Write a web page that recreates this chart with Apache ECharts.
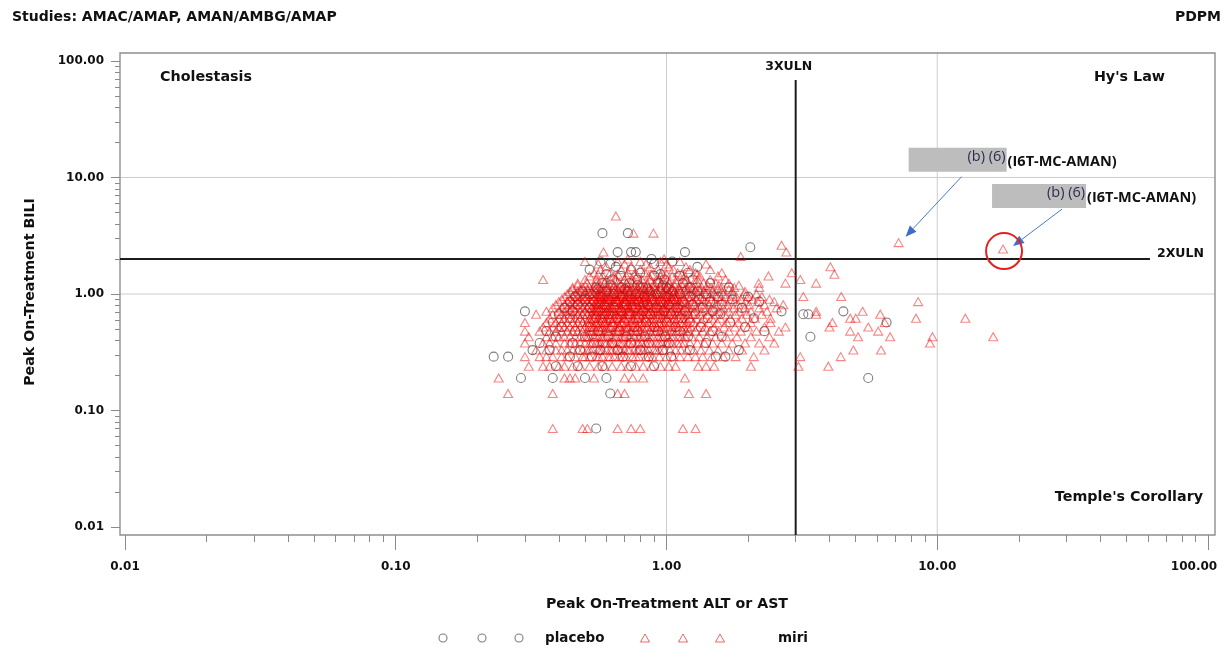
<!DOCTYPE html>
<html>
<head>
<meta charset="utf-8">
<title>eDISH plot</title>
<script src="https://cdn.jsdelivr.net/npm/echarts@6/dist/echarts.min.js"></script>
<style>
  html, body { margin: 0; padding: 0; background: #ffffff; overflow: hidden; }
  #chart { width: 1225px; height: 647px; }
</style>
</head>
<body>
<div id="chart"></div>
<script>
// Peak on-treatment BILI (x ULN): one level per row of the data below
const biliLevels = [
  0.07, 0.14, 0.19, 0.24, 0.29, 0.33, 0.38, 0.43, 0.48, 0.52,
  0.57, 0.62, 0.67, 0.71, 0.76, 0.81, 0.86, 0.90, 0.95, 1.00,
  1.05, 1.10, 1.14, 1.19, 1.24, 1.33, 1.43, 1.48, 1.52, 1.62,
  1.71, 1.81, 1.90, 2.00, 2.10, 2.29, 2.43, 2.52, 2.62, 2.76,
  3.33, 4.67
];

// Peak on-treatment ALT or AST (x ULN), miri arm, grouped by BILI level
const miriAlt = [
  [0.38, 0.49, 0.51, 0.66, 0.74, 0.80, 1.15, 1.28],
  [0.26, 0.38, 0.66, 0.70, 1.21, 1.40],
  [0.24, 0.42, 0.44, 0.46, 0.54, 0.70, 0.75, 0.82, 1.17],
  [0.31, 0.35, 0.37, 0.40, 0.42, 0.45, 0.48, 0.52, 0.56, 0.59, 0.63, 0.68, 0.72, 0.77, 0.82, 0.88, 0.95, 1.02, 1.08, 1.31, 1.40, 1.50, 2.05, 3.07, 3.96],
  [0.30, 0.34, 0.36, 0.38, 0.41, 0.43, 0.46, 0.49, 0.52, 0.55, 0.58, 0.61, 0.64, 0.67, 0.71, 0.75, 0.79, 0.84, 0.89, 0.94, 1.00, 1.06, 1.12, 1.20, 1.28, 1.36, 1.47, 1.62, 1.80, 2.10, 3.12, 4.40,
   0.50, 0.56, 0.62, 0.69, 0.77, 0.86],
  [0.33, 0.36, 0.39, 0.41, 0.43, 0.45, 0.47, 0.49, 0.51, 0.53, 0.56, 0.58, 0.60, 0.63, 0.65, 0.68, 0.70, 0.73, 0.76, 0.79, 0.82, 0.86, 0.90, 0.94, 0.98, 1.03, 1.08, 1.13, 1.19, 1.26, 1.34, 1.44, 1.55, 1.70, 1.90, 2.30, 4.90, 6.20,
   0.52, 0.57, 0.62, 0.67, 0.72, 0.78, 0.84, 0.92],
  [0.30, 0.35, 0.37, 0.39, 0.42, 0.44, 0.46, 0.48, 0.50, 0.52, 0.55, 0.57, 0.59, 0.62, 0.64, 0.67, 0.69, 0.72, 0.75, 0.78, 0.81, 0.84, 0.88, 0.92, 0.96, 1.00, 1.05, 1.10, 1.16, 1.22, 1.30, 1.38, 1.48, 1.60, 1.75, 1.95, 2.20, 2.50, 9.40,
   0.53, 0.56, 0.60, 0.63, 0.68, 0.73, 0.79, 0.86, 0.94, 1.02, 1.13],
  [0.31, 0.36, 0.38, 0.40, 0.42, 0.44, 0.46, 0.48, 0.50, 0.52, 0.54, 0.56, 0.58, 0.60, 0.63, 0.65, 0.68, 0.70, 0.73, 0.76, 0.79, 0.82, 0.85, 0.89, 0.93, 0.97, 1.01, 1.06, 1.11, 1.17, 1.24, 1.32, 1.41, 1.52, 1.66, 1.82, 2.05, 2.40, 5.10, 6.70, 9.60, 16.1,
   0.51, 0.55, 0.59, 0.64, 0.69, 0.74, 0.80, 0.87, 0.95, 1.04, 1.14],
  [0.30, 0.34, 0.37, 0.39, 0.41, 0.43, 0.45, 0.47, 0.49, 0.51, 0.53, 0.55, 0.57, 0.59, 0.61, 0.64, 0.66, 0.69, 0.71, 0.74, 0.77, 0.80, 0.83, 0.87, 0.91, 0.95, 0.99, 1.04, 1.09, 1.15, 1.21, 1.28, 1.36, 1.45, 1.56, 1.70, 1.88, 2.15, 2.60, 4.77, 6.05,
   0.52, 0.56, 0.60, 0.65, 0.70, 0.75, 0.81, 0.89, 0.97, 1.06, 1.18],
  [0.35, 0.38, 0.40, 0.42, 0.44, 0.46, 0.48, 0.50, 0.52, 0.54, 0.56, 0.58, 0.60, 0.62, 0.65, 0.67, 0.70, 0.72, 0.75, 0.78, 0.81, 0.85, 0.88, 0.92, 0.96, 1.00, 1.05, 1.10, 1.16, 1.23, 1.30, 1.39, 1.50, 1.63, 1.79, 2.00, 2.30, 2.75, 4.00, 5.56,
   0.53, 0.57, 0.61, 0.66, 0.71, 0.76, 0.83, 0.90, 0.98, 1.08, 1.20],
  [0.30, 0.36, 0.39, 0.41, 0.43, 0.45, 0.47, 0.49, 0.51, 0.53, 0.55, 0.57, 0.59, 0.61, 0.63, 0.66, 0.68, 0.71, 0.74, 0.77, 0.80, 0.83, 0.86, 0.90, 0.94, 0.98, 1.03, 1.08, 1.13, 1.19, 1.26, 1.34, 1.43, 1.54, 1.67, 1.84, 2.05, 2.42, 4.10, 6.40,
   0.52, 0.56, 0.60, 0.64, 0.69, 0.75, 0.81, 0.88, 0.96, 1.05, 1.16],
  [0.37, 0.40, 0.42, 0.44, 0.46, 0.48, 0.50, 0.52, 0.54, 0.56, 0.58, 0.60, 0.62, 0.64, 0.67, 0.69, 0.72, 0.75, 0.78, 0.81, 0.84, 0.88, 0.92, 0.96, 1.00, 1.05, 1.10, 1.15, 1.22, 1.29, 1.37, 1.47, 1.58, 1.72, 1.90, 2.12, 2.42, 4.77, 5.00, 8.35, 12.7,
   0.53, 0.57, 0.61, 0.66, 0.70, 0.76, 0.83, 0.90, 0.98, 1.07, 1.18],
  [0.33, 0.38, 0.41, 0.43, 0.45, 0.47, 0.49, 0.51, 0.53, 0.55, 0.57, 0.59, 0.61, 0.63, 0.65, 0.68, 0.70, 0.73, 0.76, 0.79, 0.82, 0.86, 0.89, 0.93, 0.97, 1.02, 1.06, 1.12, 1.18, 1.25, 1.33, 1.42, 1.52, 1.64, 1.80, 1.98, 2.25, 3.57, 6.16,
   0.54, 0.58, 0.62, 0.67, 0.72, 0.77, 0.84, 0.91, 0.99, 1.09, 1.21],
  [0.36, 0.40, 0.42, 0.44, 0.46, 0.48, 0.50, 0.52, 0.54, 0.56, 0.58, 0.60, 0.62, 0.64, 0.67, 0.69, 0.72, 0.74, 0.77, 0.80, 0.84, 0.87, 0.91, 0.95, 0.99, 1.04, 1.09, 1.14, 1.20, 1.27, 1.35, 1.45, 1.56, 1.70, 1.86, 2.05, 2.35, 3.57, 5.30,
   0.55, 0.59, 0.63, 0.68, 0.73, 0.79, 0.85, 0.93, 1.01, 1.11],
  [0.38, 0.41, 0.43, 0.45, 0.47, 0.49, 0.51, 0.53, 0.55, 0.57, 0.59, 0.61, 0.63, 0.66, 0.68, 0.71, 0.73, 0.76, 0.79, 0.82, 0.85, 0.89, 0.93, 0.97, 1.01, 1.06, 1.11, 1.17, 1.24, 1.31, 1.40, 1.50, 1.62, 1.77, 1.95, 2.20, 2.55,
   0.54, 0.58, 0.62, 0.67, 0.72, 0.78, 0.84, 0.91, 0.99, 1.09, 1.20],
  [0.39, 0.42, 0.44, 0.46, 0.48, 0.50, 0.52, 0.54, 0.56, 0.58, 0.60, 0.62, 0.65, 0.67, 0.70, 0.72, 0.75, 0.78, 0.81, 0.84, 0.87, 0.91, 0.95, 0.99, 1.03, 1.08, 1.14, 1.20, 1.27, 1.35, 1.44, 1.55, 1.68, 1.84, 2.02, 2.30, 2.70,
   0.55, 0.59, 0.64, 0.69, 0.74, 0.80, 0.86, 0.93, 1.01, 1.11],
  [0.40, 0.43, 0.45, 0.47, 0.49, 0.51, 0.53, 0.55, 0.57, 0.59, 0.61, 0.64, 0.66, 0.69, 0.71, 0.74, 0.77, 0.80, 0.83, 0.86, 0.90, 0.94, 0.98, 1.02, 1.07, 1.12, 1.18, 1.25, 1.32, 1.41, 1.51, 1.63, 1.78, 1.96, 2.18, 2.50, 8.50,
   0.56, 0.60, 0.65, 0.70, 0.75, 0.82, 0.88, 0.96, 1.05, 1.15],
  [0.41, 0.44, 0.46, 0.48, 0.50, 0.52, 0.54, 0.56, 0.58, 0.60, 0.62, 0.65, 0.67, 0.70, 0.73, 0.76, 0.79, 0.82, 0.85, 0.89, 0.93, 0.97, 1.01, 1.05, 1.10, 1.16, 1.22, 1.29, 1.37, 1.47, 1.58, 1.72, 1.88, 2.08, 2.40,
   0.57, 0.61, 0.66, 0.71, 0.77, 0.83, 0.91, 0.99, 1.08],
  [0.42, 0.45, 0.47, 0.49, 0.51, 0.53, 0.55, 0.57, 0.59, 0.62, 0.64, 0.67, 0.69, 0.72, 0.75, 0.78, 0.81, 0.84, 0.88, 0.92, 0.96, 1.00, 1.04, 1.09, 1.14, 1.20, 1.27, 1.35, 1.44, 1.54, 1.66, 1.81, 2.00, 2.25, 3.20, 4.42,
   0.56, 0.60, 0.65, 0.71, 0.76, 0.83, 0.90, 0.98, 1.07],
  [0.43, 0.46, 0.48, 0.50, 0.52, 0.54, 0.56, 0.58, 0.60, 0.63, 0.65, 0.68, 0.70, 0.73, 0.76, 0.79, 0.82, 0.86, 0.89, 0.93, 0.97, 1.02, 1.06, 1.11, 1.17, 1.24, 1.31, 1.40, 1.50, 1.62, 1.76, 1.94, 2.15,
   0.57, 0.62, 0.67, 0.72, 0.78, 0.84, 0.91, 1.00, 1.09],
  [0.44, 0.47, 0.50, 0.53, 0.55, 0.58, 0.61, 0.64, 0.67, 0.70, 0.73, 0.77, 0.80, 0.84, 0.88, 0.92, 0.97, 1.02, 1.07, 1.13, 1.20, 1.28, 1.37, 1.48, 1.60, 1.75, 1.95],
  [0.45, 0.48, 0.51, 0.54, 0.57, 0.60, 0.63, 0.66, 0.69, 0.72, 0.76, 0.79, 0.83, 0.87, 0.91, 0.95, 1.00, 1.05, 1.11, 1.17, 1.24, 1.32, 1.42, 1.55, 1.70],
  [0.45, 0.49, 0.52, 0.55, 0.58, 0.61, 0.64, 0.67, 0.71, 0.74, 0.78, 0.82, 0.86, 0.90, 0.95, 1.00, 1.05, 1.11, 1.18, 1.26, 1.35, 1.46, 1.60, 1.78, 2.20],
  [0.47, 0.50, 0.54, 0.57, 0.60, 0.64, 0.68, 0.72, 0.76, 0.80, 0.85, 0.90, 0.95, 1.01, 1.07, 1.14, 1.22, 1.31, 1.42, 1.56, 1.85],
  [0.47, 0.51, 0.55, 0.59, 0.63, 0.67, 0.71, 0.75, 0.80, 0.85, 0.90, 0.96, 1.02, 1.09, 1.17, 1.26, 1.37, 1.52, 1.70, 2.19, 2.75, 3.57],
  [0.35, 0.50, 0.55, 0.60, 0.65, 0.70, 0.75, 0.81, 0.87, 0.94, 1.01, 1.09, 1.18, 1.30, 1.45, 1.65, 3.12],
  [0.52, 0.58, 0.64, 0.71, 0.78, 0.86, 0.95, 1.05, 1.17, 1.33, 1.55, 2.38],
  [0.56, 0.66, 0.76, 0.88, 1.00, 1.14, 1.30, 4.17],
  [0.54, 0.62, 0.72, 0.83, 0.96, 1.10, 1.28, 1.60, 2.90],
  [0.57, 0.68, 0.80, 0.93, 1.06, 1.22, 1.45],
  [0.60, 0.74, 0.87, 1.02, 1.18, 4.03],
  [0.56, 0.70, 0.84, 1.00, 1.40],
  [0.50, 0.66, 0.80, 0.95, 1.12],
  [0.72, 0.98],
  [1.88],
  [0.585, 2.77],
  [17.5],
  [],
  [2.66],
  [7.2],
  [0.755, 0.895],
  [0.65]
];

// Peak on-treatment ALT or AST (x ULN), placebo arm, grouped by BILI level
const placeboAlt = [
  [0.55],
  [0.62],
  [0.29, 0.38, 0.50, 0.60, 5.56],
  [0.39, 0.47, 0.58, 0.74, 0.90],
  [0.23, 0.26, 0.44, 0.53, 0.69, 0.86, 1.04, 1.52, 1.65],
  [0.32, 0.37, 0.48, 0.57, 0.66, 0.80, 0.97, 1.22, 1.85],
  [0.34, 0.45, 0.54, 0.63, 0.74, 0.86, 1.02, 1.40],
  [0.39, 0.50, 0.61, 0.71, 0.83, 0.99, 1.20, 1.60, 3.40],
  [0.36, 0.46, 0.56, 0.67, 0.78, 0.93, 1.12, 1.48, 2.30],
  [0.41, 0.52, 0.63, 0.76, 0.90, 1.08, 1.34, 1.95],
  [0.38, 0.48, 0.58, 0.70, 0.84, 1.00, 1.22, 1.72, 6.50],
  [0.44, 0.55, 0.66, 0.79, 0.95, 1.14, 1.42, 2.10],
  [0.40, 0.50, 0.61, 0.73, 0.87, 1.04, 1.28, 1.58, 3.20, 3.34],
  [0.30, 0.45, 0.56, 0.68, 0.82, 0.98, 1.17, 1.48, 2.66, 4.50],
  [0.42, 0.52, 0.64, 0.77, 0.92, 1.10, 1.36, 1.90],
  [0.47, 0.59, 0.71, 0.85, 1.02, 1.25, 1.60],
  [0.44, 0.54, 0.65, 0.79, 0.95, 1.15, 1.45, 2.20],
  [0.50, 0.61, 0.74, 0.88, 1.06, 1.32, 1.75],
  [0.46, 0.57, 0.69, 0.83, 1.00, 1.22, 1.55, 2.00],
  [0.52, 0.64, 0.77, 0.92, 1.12, 1.40],
  [0.49, 0.60, 0.72, 0.87, 1.05, 1.30],
  [0.56, 0.70, 0.85, 1.02],
  [0.55, 0.68, 0.82, 1.00, 1.22, 1.70],
  [0.62, 0.78, 0.97],
  [0.58, 0.73, 0.93, 1.15, 1.45],
  [0.63, 0.78, 0.98, 1.25],
  [0.68, 0.90, 1.12],
  [0.60, 0.95],
  [0.80, 1.20],
  [0.52, 0.74],
  [0.65, 1.30],
  [0.62, 0.90],
  [0.57, 1.05],
  [0.88],
  [],
  [0.66, 0.74, 0.77, 1.17],
  [],
  [2.04],
  [],
  [],
  [0.58, 0.72],
  []
];

// Two miri subjects called out with a subject label
const flaggedPoints = [[7.2, 2.76], [17.5, 2.43]];
const flaggedStudy = ['(I6T-MC-AMAN)', '(I6T-MC-AMAN)'];
const redactionCode = '(b) (6)';

// Axis ticks (both axes share the same log range)
const majorTicks = [0.01, 0.1, 1, 10, 100];
const minorTicks = [
  0.02, 0.03, 0.04, 0.05, 0.06, 0.07, 0.08, 0.09,
  0.2, 0.3, 0.4, 0.5, 0.6, 0.7, 0.8, 0.9,
  2, 3, 4, 5, 6, 7, 8, 9,
  20, 30, 40, 50, 60, 70, 80, 90
];

// Reference lines
const ulnLines = [1, 10];
const altLimit = 3;   // 3XULN
const biliLimit = 2;  // 2XULN

const FONT = '"DejaVu Sans", Verdana, sans-serif';
const CALLOUT_FONT = '"Open Sans", "Liberation Sans", sans-serif';
const MIRI_STROKE = 'rgba(240, 0, 0, 0.6)';
const PLACEBO_STROKE = 'rgba(55, 55, 55, 0.8)';

function toPairs(levels, rows) {
  const out = [];
  rows.forEach((row, i) => row.forEach(x => out.push([x, levels[i]])));
  return out;
}

const chart = echarts.init(document.getElementById('chart'), null, { renderer: 'canvas' });

function logAxis(extra) {
  const base = {
    type: 'log', logBase: 10, min: 0.01, max: 100,
    axisLine: { show: false },
    splitLine: { show: false },
    minorTick: { show: false },
    minorSplitLine: { show: false }
  };
  return Object.assign(base, extra);
}

const labelStyle = { fontFamily: FONT, fontWeight: 'bold', fontSize: 12, color: '#111' };
const fmt = v => Number(v).toFixed(2);
// the last x label is pulled in from the plot edge
const fmtX = v => (Number(v) >= 100 ? '{edge|' + fmt(v) + '}' : fmt(v));
const tickLine = { color: '#8a8a8a', width: 1 };

const option = {
  animation: false,
  backgroundColor: '#ffffff',
  grid: { left: 125, right: 17, top: 61, bottom: 120, containLabel: false, outerBoundsMode: 'none' },
  xAxis: [
    logAxis({
      position: 'bottom', offset: 8,
      axisTick: { show: true, length: 15, customValues: majorTicks, lineStyle: tickLine },
      axisLabel: Object.assign({
        customValues: majorTicks, formatter: fmtX, margin: 26,
        rich: { edge: Object.assign({ padding: [0, 28, 0, 0] }, labelStyle) }
      }, labelStyle)
    }),
    logAxis({
      position: 'bottom', offset: 8,
      axisTick: { show: true, length: 7, customValues: minorTicks, lineStyle: tickLine },
      axisLabel: { show: false }
    })
  ],
  yAxis: [
    logAxis({
      position: 'left', offset: 5,
      axisTick: { show: true, length: 9, customValues: majorTicks, lineStyle: tickLine },
      axisLabel: Object.assign({ customValues: majorTicks, formatter: fmt, margin: 16 }, labelStyle)
    }),
    logAxis({
      position: 'left', offset: 5,
      axisTick: { show: true, length: 5, customValues: minorTicks, lineStyle: tickLine },
      axisLabel: { show: false }
    })
  ],
  series: [
    {
      name: 'placebo', type: 'scatter', xAxisIndex: 0, yAxisIndex: 0,
      data: toPairs(biliLevels, placeboAlt),
      symbol: 'circle', symbolSize: 9, silent: true, z: 3,
      itemStyle: { color: 'rgba(0,0,0,0)', borderColor: PLACEBO_STROKE, borderWidth: 1.1 }
    },
    {
      name: 'miri', type: 'scatter', xAxisIndex: 0, yAxisIndex: 0,
      data: toPairs(biliLevels, miriAlt),
      symbol: 'triangle', symbolSize: [9, 8], silent: true, z: 4,
      itemStyle: { color: 'rgba(0,0,0,0)', borderColor: MIRI_STROKE, borderWidth: 1.1 }
    }
  ]
};

chart.setOption(option);

// Frame, reference lines, quadrant labels, titles, legend and callouts
function overlay() {
  const P = (x, y) => chart.convertToPixel({ seriesIndex: 0 }, [x, y]);
  const L = 120, T = 53, R = 1215, B = 535;
  const els = [];
  const txt = (text, x, y, size, align, extra) => Object.assign({
    type: 'text', x, y, z: 20,
    style: { text, fontFamily: FONT, fontWeight: 'bold', fontSize: size, fill: '#111',
             textAlign: align || 'left', textVerticalAlign: 'middle' }
  }, extra || {});

  // light ULN / 10xULN lines
  ulnLines.forEach(v => {
    const px = P(v, 1)[0];
    const py = P(1, v)[1];
    els.push({ type: 'line', z: 1, shape: { x1: px, y1: T, x2: px, y2: B }, style: { stroke: '#cdcdcd', lineWidth: 1 } });
    els.push({ type: 'line', z: 1, shape: { x1: L, y1: py, x2: R, y2: py }, style: { stroke: '#cdcdcd', lineWidth: 1 } });
  });

  // frame
  els.push({ type: 'rect', z: 2, shape: { x: L, y: T, width: R - L, height: B - T },
             style: { fill: 'none', stroke: '#8f8f8f', lineWidth: 1.4 } });

  // 3XULN and 2XULN limits
  const x3 = P(altLimit, 1)[0];
  const y2 = P(1, biliLimit)[1];
  els.push({ type: 'line', z: 2, shape: { x1: x3, y1: 80, x2: x3, y2: B }, style: { stroke: '#1c1c1c', lineWidth: 2 } });
  els.push({ type: 'line', z: 2, shape: { x1: L, y1: y2, x2: 1150, y2: y2 }, style: { stroke: '#1c1c1c', lineWidth: 2 } });
  els.push(txt('3XULN', x3 - 7, 67, 12.5, 'center'));
  els.push(txt('2XULN', 1157, y2 - 5, 12.5, 'left'));

  // quadrant labels
  els.push(txt('Cholestasis', 160, 77, 14.3, 'left'));
  els.push(txt("Hy's Law", 1165, 77, 14.3, 'right'));
  els.push(txt("Temple's Corollary", 1203, 497, 14.3, 'right'));

  // header
  els.push(txt('Studies: AMAC/AMAP, AMAN/AMBG/AMAP', 12, 17, 14, 'left'));
  els.push(txt('PDPM', 1221, 17, 14, 'right'));

  // axis titles
  els.push(txt('Peak On-Treatment ALT or AST', 667, 604, 14.2, 'center'));
  els.push(txt('Peak On-Treatment BILI', 30, 292, 14.2, 'center', { rotation: Math.PI / 2 }));

  // legend
  const ly = 638;
  [443, 482, 519].forEach(cx => els.push({ type: 'circle', z: 20, shape: { cx, cy: ly, r: 4 },
    style: { fill: 'none', stroke: 'rgba(55,55,55,0.65)', lineWidth: 1.1 } }));
  els.push(txt('placebo', 545, ly, 13.5, 'left'));
  [645, 683, 720].forEach(cx => els.push({ type: 'polygon', z: 20,
    shape: { points: [[cx, ly - 4], [cx - 4.5, ly + 4], [cx + 4.5, ly + 4]] },
    style: { fill: 'none', stroke: MIRI_STROKE, lineWidth: 1 } }));
  els.push(txt('miri', 778, ly, 13.5, 'left'));

  // callouts
  const arrow = (x1, y1, x2, y2) => {
    const a = Math.atan2(y2 - y1, x2 - x1);
    const hl = 11, hw = 4.5;
    const bx = x2 - hl * Math.cos(a), by = y2 - hl * Math.sin(a);
    const nx = -Math.sin(a), ny = Math.cos(a);
    els.push({ type: 'line', z: 21, shape: { x1, y1, x2: bx, y2: by }, style: { stroke: '#4a78c8', lineWidth: 1 } });
    els.push({ type: 'polygon', z: 21, shape: { points: [[x2, y2], [bx + nx * hw, by + ny * hw], [bx - nx * hw, by - ny * hw]] },
               style: { fill: '#3d6ccb' } });
  };
  const callout = (pt, study, box, arrowFrom, arrowTo) => {
    const [px, py] = P(pt[0], pt[1]);
    const bx = px + box[0], by = py + box[1];
    els.push({ type: 'rect', z: 20, shape: { x: bx, y: by, width: box[2], height: box[3] }, style: { fill: '#bdbdbd' } });
    els.push({ type: 'text', z: 21, x: bx + box[2] - 1, y: by + 9,
      style: { text: redactionCode, fontFamily: CALLOUT_FONT, fontSize: 14.5,
               fill: '#2b2f4f', textAlign: 'right', textVerticalAlign: 'middle' } });
    els.push({ type: 'text', z: 21, x: bx + box[2] + 1, y: by + 14,
      style: { text: study, fontFamily: CALLOUT_FONT, fontWeight: 'bold', fontSize: 14.5,
               fill: '#111', textAlign: 'left', textVerticalAlign: 'middle' } });
    arrow(px + arrowFrom[0], py + arrowFrom[1], px + arrowTo[0], py + arrowTo[1]);
  };
  callout(flaggedPoints[0], flaggedStudy[0], [10, -95, 98, 24], [63, -66], [7, -6]);
  callout(flaggedPoints[1], flaggedStudy[1], [-11, -65, 94, 24], [59, -40], [10, -3]);

  // red ring around the second flagged subject
  const [rx, ry] = P(flaggedPoints[1][0], flaggedPoints[1][1]);
  els.push({ type: 'circle', z: 22, shape: { cx: rx + 1, cy: ry + 2, r: 18 },
             style: { fill: 'none', stroke: '#e3231f', lineWidth: 2 } });

  chart.setOption({ graphic: { elements: els } });
}

overlay();
</script>
</body>
</html>
